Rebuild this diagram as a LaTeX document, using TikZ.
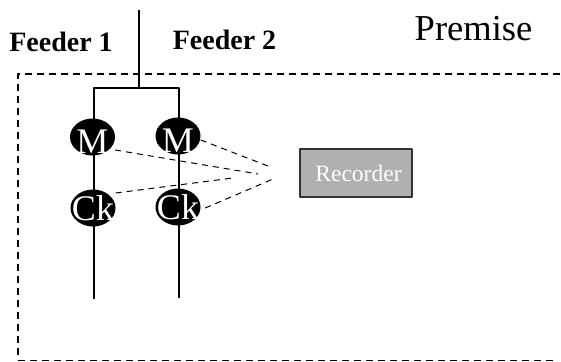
\documentclass[tikz,border=0pt]{standalone}
\usepackage{fontspec}
\setmainfont{Liberation Serif}
\usetikzlibrary{shapes.geometric}
\tikzset{
	meter/.style={ellipse,fill=black,text=white,inner sep=-12pt,minimum width=45pt,minimum height=37pt,font=\fontsize{36}{36}\selectfont},
	feederlabel/.style={font=\fontsize{28}{28}\selectfont\bfseries},
	recorderbox/.style={draw=black!80,line width=1.2pt,fill=black!31,text=white,inner sep=0pt,minimum width=112pt,minimum height=48pt,font=\fontsize{23.5}{24}\selectfont},
	feederline/.style={line width=1.1pt},
	signalline/.style={line width=1pt,dash pattern=on 6pt off 5pt}
}
\begin{document}
\begin{tikzpicture}[x=1pt,y=-1pt,line join=round,font=\fontsize{36.5}{36}\selectfont]
	\useasboundingbox (0,0) rectangle (561,361);
	% frame of the premise
	\draw [line width=1.6pt,dash pattern=on 7pt off 5pt] (560,74)--(18,74)--(18,360);
	\draw [line width=1pt,dash pattern=on 7pt off 5pt] (18,360)--(555,360);
	% feeders
	\coordinate (top) at (139,10);
	\coordinate (split) at (139,88);
	\coordinate (leftbus) at (94,88);
	\coordinate (rightbus) at (179,88);
	\coordinate (leftend) at (94,299);
	\coordinate (rightend) at (179,298);
	\draw [feederline] (top)--(split);
	\draw [feederline] (leftend)--(leftbus)--(rightbus)--(rightend);
	% meters and clocks
	\node [meter,text height=32pt,text depth=0pt] (m1) at (92.5,137) {M};
	\node [meter,text height=32pt,text depth=0pt] (m2) at (178,136) {M};
	\node [meter] (ck1) at (93,208) {Ck};
	\node [meter] (ck2) at (178,207) {Ck};
	\node [recorderbox] (recorder) at (356,173) {\hspace*{5pt}Recorder};
	% free ends near the recorder
	\coordinate (t1) at (268,166);
	\coordinate (t2) at (258,174);
	\coordinate (t3) at (233,178);
	\coordinate (t4) at (273,179);
	\draw [signalline] (m2.east)++(0,4)--(t1);
	\draw [signalline] (m1.east)++(0,13)--(t2);
	\draw [signalline] (ck1.east)++(0,-15)--(t3);
	\draw [signalline] (ck2.east)++(4.5,1)--(t4);
	% labels
	\node [feederlabel] (f1) at (61,42) {Feeder 1};
	\node [feederlabel] (f2) at (224.5,40) {Feeder 2};
	\node (premise) at (473.5,29) {Premise};
\end{tikzpicture}
\end{document}
